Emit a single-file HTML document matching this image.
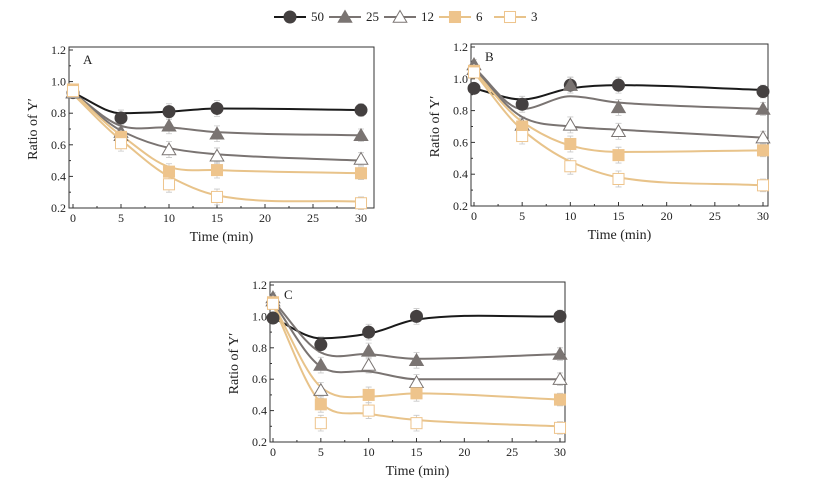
<!DOCTYPE html>
<html><head><meta charset="utf-8"><style>
html,body{margin:0;padding:0;background:#fff;width:818px;height:483px;overflow:hidden}
svg{display:block;font-family:"Liberation Serif",serif}
</style></head><body>
<svg id="chart" width="818" height="483" viewBox="0 0 818 483"></svg>
<script>
const timesMin = [0, 5, 10, 15, 30];
const seriesNames = ["50", "25", "12", "6", "3"];
const xTicks = [0, 5, 10, 15, 20, 25, 30];
const yTicks = [0.2, 0.4, 0.6, 0.8, 1.0, 1.2];
const panelA = [
  [0.93, 0.77, 0.81, 0.83, 0.82],
  [0.93, 0.68, 0.72, 0.67, 0.66],
  [0.93, 0.66, 0.57, 0.53, 0.51],
  [0.95, 0.65, 0.43, 0.44, 0.42],
  [0.94, 0.61, 0.35, 0.27, 0.23]
];
const fitA = [
  [0.93, 0.80, 0.81, 0.83, 0.82],
  [0.93, 0.72, 0.71, 0.68, 0.66],
  [0.93, 0.69, 0.58, 0.54, 0.50],
  [0.93, 0.66, 0.46, 0.44, 0.42],
  [0.92, 0.63, 0.40, 0.28, 0.24]
];
const panelB = [
  [0.94, 0.84, 0.96, 0.96, 0.92],
  [1.09, 0.71, 0.96, 0.82, 0.81],
  [1.06, 0.71, 0.71, 0.67, 0.63],
  [1.05, 0.70, 0.59, 0.52, 0.55],
  [1.04, 0.64, 0.45, 0.37, 0.33]
];
const fitB = [
  [0.94, 0.87, 0.94, 0.96, 0.93],
  [1.07, 0.81, 0.89, 0.85, 0.81],
  [1.06, 0.76, 0.70, 0.68, 0.63],
  [1.05, 0.73, 0.58, 0.54, 0.55],
  [1.04, 0.68, 0.48, 0.38, 0.33]
];
const panelC = [
  [0.99, 0.82, 0.90, 1.00, 1.00],
  [1.12, 0.69, 0.78, 0.72, 0.76],
  [1.10, 0.53, 0.69, 0.58, 0.60],
  [1.09, 0.44, 0.50, 0.51, 0.47],
  [1.08, 0.32, 0.40, 0.32, 0.29]
];
const fitC = [
  [0.99, 0.86, 0.89, 0.98, 1.00],
  [1.10, 0.77, 0.76, 0.73, 0.76],
  [1.09, 0.68, 0.65, 0.60, 0.60],
  [1.08, 0.55, 0.49, 0.51, 0.47],
  [1.07, 0.45, 0.38, 0.34, 0.30]
];
const errA = [0.03, 0.05, 0.05, 0.05, 0.04];
const NS = "http://www.w3.org/2000/svg";
const svg = document.getElementById("chart");
const colors = ["#1a1a1a", "#7a7472", "#7a7472", "#e8c38a", "#e8c38a"];
const markColors = ["#444040", "#7a7472", "#7a7472", "#eec48c", "#eec48c"];
function mk(tag, attrs, parent) {
  const e = document.createElementNS(NS, tag);
  for (const k in attrs) e.setAttribute(k, attrs[k]);
  (parent || svg).appendChild(e);
  return e;
}
function marker(g, i, x, y, s) {
  let e;
  const c = markColors[i];
  if (i === 0) e = mk("circle", {cx: x, cy: y, r: s, fill: c}, g);
  else if (i === 1 || i === 2) e = mk("polygon", {points: `${x},${y - s} ${x - s * 1.05},${y + s * 0.8} ${x + s * 1.05},${y + s * 0.8}`, fill: i === 1 ? c : "#fff", stroke: c, "stroke-width": 1}, g);
  else e = mk("rect", {x: x - s * 0.85, y: y - s * 0.85, width: s * 1.7, height: s * 1.7, fill: i === 3 ? c : "#fff", stroke: c, "stroke-width": 1}, g);
  return e;
}
function monotonePath(pts) {
  const n = pts.length, dx = [], m = [], t = [];
  for (let k = 0; k < n - 1; k++) { dx[k] = pts[k + 1][0] - pts[k][0]; m[k] = (pts[k + 1][1] - pts[k][1]) / dx[k]; }
  t[0] = m[0]; t[n - 1] = m[n - 2];
  for (let k = 1; k < n - 1; k++) t[k] = (m[k - 1] * m[k] <= 0) ? 0 : (m[k - 1] + m[k]) / 2 * 0.9;
  let d = `M${pts[0][0]},${pts[0][1]}`;
  for (let k = 0; k < n - 1; k++) {
    const h = dx[k] / 3;
    d += ` C${pts[k][0] + h},${pts[k][1] + t[k] * h} ${pts[k + 1][0] - h},${pts[k + 1][1] - t[k + 1] * h} ${pts[k + 1][0]},${pts[k + 1][1]}`;
  }
  return d;
}
function drawPanel(name, label, data, fit, L, R, T, B, x0, x30) {
  const g = mk("g", {});
  
  
  const xs = t => x0 + (x30 - x0) * t / 30;
  const ys = v => B - (B - T) * (v - 0.2) / 1.0;
  const box = mk("rect", {x: L, y: T - 3, width: R - L, height: B - T + 3, fill: "none", stroke: "#333", "stroke-width": 1}, g);
  
  
  xTicks.forEach(t => {
    mk("line", {x1: xs(t), x2: xs(t), y1: B, y2: B - 4, stroke: "#333"}, g);
    if (t < 30) mk("line", {x1: xs(t + 2.5), x2: xs(t + 2.5), y1: B, y2: B - 2, stroke: "#333"}, g);
    const tx = mk("text", {x: xs(t), y: B + 14, "font-size": 12, "text-anchor": "middle", fill: "#222"}, g);
    tx.textContent = t;
    
    
  });
  yTicks.forEach(v => {
    mk("line", {x1: L, x2: L + 4, y1: ys(v), y2: ys(v), stroke: "#333"}, g);
    if (v < 1.2) mk("line", {x1: L, x2: L + 2, y1: ys(v + 0.1), y2: ys(v + 0.1), stroke: "#333"}, g);
    const ty = mk("text", {x: L - 3, y: ys(v) + 4, "font-size": 12, "text-anchor": "end", fill: "#222"}, g);
    ty.textContent = v.toFixed(1);
    
    
  });
  const xt = mk("text", {x: (L + R) / 2, y: B + 33, "font-size": 14, "text-anchor": "middle", fill: "#222"}, g);
  xt.textContent = "Time (min)";
  
  
  const yt = mk("text", {x: 0, y: 0, "font-size": 14, "text-anchor": "middle", fill: "#222", transform: `translate(${L - 32},${(T + B) / 2}) rotate(-90)`}, g);
  yt.textContent = "Ratio of Y′";
  
  
  const pl = mk("text", {x: L + 14, y: T + 14, "font-size": 13, fill: "#222"}, g);
  pl.textContent = label;
  
  
  data.forEach((vals, i) => {
    vals.forEach((v, k) => {
      const e = errA[k], x = xs(timesMin[k]);
      mk("path", {d: `M${x},${ys(v - e)}V${ys(v + e)}M${x - 3},${ys(v - e)}h6M${x - 3},${ys(v + e)}h6`, stroke: "#c8c8c8", "stroke-width": 0.8, fill: "none"}, g);
    });
  });
  fit.forEach((vals, i) => {
    const pts = vals.map((v, k) => [xs(timesMin[k]), ys(v)]);
    const line = mk("path", {d: monotonePath(pts), fill: "none", stroke: colors[i], "stroke-width": 2}, g);
    
    
  });
  data.forEach((vals, i) => {
    vals.forEach((v, k) => {
      const m = marker(g, i, xs(timesMin[k]), ys(v), 6.5);
      
      
    });
  });
}
drawPanel("a", "A", panelA, fitA, 69, 374, 50, 208, 73, 361);
drawPanel("b", "B", panelB, fitB, 471, 768, 47, 206, 474, 763);
drawPanel("c", "C", panelC, fitC, 270, 565, 285, 442, 273, 560);
const lg = mk("g", {});


const legX = [290, 345, 400, 455, 510];
seriesNames.forEach((n, i) => {
  mk("line", {x1: legX[i] - 16, x2: legX[i] + 16, y1: 17, y2: 17, stroke: colors[i], "stroke-width": 2}, lg);
  marker(lg, i, legX[i], 17, 6.5);
  const t = mk("text", {x: legX[i] + 21, y: 21, "font-size": 13, fill: "#222"}, lg);
  t.textContent = n;
  
  
});
</script>
</body></html>
